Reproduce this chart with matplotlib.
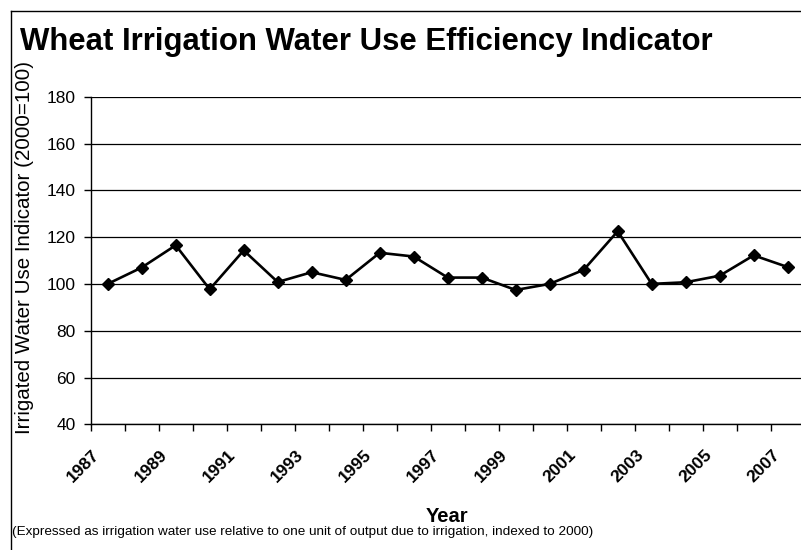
import matplotlib
matplotlib.use("Agg")
import matplotlib.pyplot as plt
from matplotlib.lines import Line2D

years = list(range(1987, 2008))
values = [100, 107, 116.5, 97.7, 114.3, 100.8, 105, 101.7, 113.3, 111.7,
          102.7, 102.7, 97.4, 100, 106, 122.5, 100, 100.7, 103.5, 112.2, 107.2]
yticks = [40, 60, 80, 100, 120, 140, 160, 180]

plt.rcParams['font.family'] = ['Liberation Sans', 'DejaVu Sans']

W, H = 801, 550
fig = plt.figure(figsize=(W / 100, H / 100), dpi=100)
ax = fig.add_axes([90.7 / W, 1 - 424.3 / H, 714 / W, (424.3 - 96.7) / H])

x = list(range(len(years)))
ax.plot(x, values, color='black', lw=1.9, marker='D', ms=6, zorder=3)

ax.set_xlim(-0.5, len(years) - 0.5)
ax.set_ylim(40, 180)
ax.set_yticks(yticks)
ax.set_yticklabels([str(t) for t in yticks], fontsize=12.5)
ax.grid(axis='y', color='black', lw=0.9)
ax.set_axisbelow(True)

# category boundary ticks (minor) and labels every second year (major, no tick mark)
ax.set_xticks([i - 0.5 for i in range(len(years) + 1)], minor=True)
ax.set_xticks([i - 0.3 for i in x[::2]])
ax.set_xticklabels([str(y) for y in years[::2]], rotation=45, ha='right',
                   va='center', rotation_mode='anchor', fontsize=12.5,
                   fontweight='bold')
ax.tick_params(axis='x', which='major', length=0, pad=20)
ax.tick_params(axis='x', which='minor', length=5, width=1, direction='out')
ax.tick_params(axis='y', length=5, width=1, direction='out', pad=6)

for s in ['top', 'right']:
    ax.spines[s].set_visible(False)
for s in ['left', 'bottom']:
    ax.spines[s].set_color('black')
    ax.spines[s].set_linewidth(1)

fig.text(20 / W, 1 - 50 / H, 'Wheat Irrigation Water Use Efficiency Indicator',
         fontsize=22.4, fontweight='bold', ha='left', va='baseline')
fig.text(25 / W, 1 - 247 / H, 'Irrigated Water Use Indicator (2000=100)',
         fontsize=14.8, rotation=90, ha='center', va='center')
fig.text(447 / W, 1 - 516 / H, 'Year', fontsize=14.5, fontweight='bold',
         ha='center', va='center')
fig.text(12 / W, 1 - 532 / H,
         '(Expressed as irrigation water use relative to one unit of output due to irrigation, indexed to 2000)',
         fontsize=9.7, ha='left', va='center')

# outer chart frame (partly cropped)
fig.add_artist(Line2D([11 / W, 11 / W], [0, 1 - 10.5 / H], transform=fig.transFigure,
                      color='black', lw=1))
fig.add_artist(Line2D([11 / W, 1], [1 - 10.5 / H, 1 - 10.5 / H], transform=fig.transFigure,
                      color='black', lw=1))

fig.savefig('out.png', dpi=100, facecolor='white')
